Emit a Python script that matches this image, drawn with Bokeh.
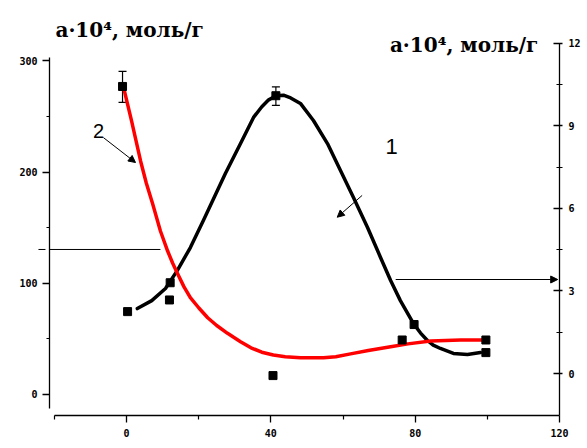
from bokeh.plotting import figure
from bokeh.models import (Range1d, LinearAxis, FixedTicker, Label, Arrow, NormalHead,
                          Whisker, TeeHead, ColumnDataSource)
from bokeh.embed import file_html
from bokeh.resources import INLINE

# Curve 1 (black, right axis)
c1_x = [3.0, 7.0, 10.8, 14.1, 17.7, 21.3, 27.4, 31.6, 35.2, 37.5, 39.4, 41.5, 43.5, 45.5,
        48.2, 51.8, 55.7, 59.3, 62.9, 66.8, 70.4, 73.2, 75.9, 79.5, 81.5, 83.4, 85.0, 87.0,
        90.6, 94.5, 98.1]
c1_y = [2.36, 2.65, 3.09, 3.75, 4.58, 5.56, 7.27, 8.36, 9.31, 9.7, 9.95, 10.1, 10.12, 10.02,
        9.82, 9.2, 8.36, 7.38, 6.4, 5.31, 4.22, 3.38, 2.65, 1.82, 1.47, 1.2, 1.03, 0.91,
        0.73, 0.69, 0.76]
p1_x = [0.3, 12.1, 41.4, 79.7, 99.6]
p1_y = [2.25, 3.3, 10.1, 1.78, 0.76]
e1_x = [41.4]
e1_lo = [9.75]
e1_hi = [10.42]

# Curve 2 (red, left axis)
c2_x = [-0.8, 1.4, 3.9, 5.5, 7.2, 9.4, 11.4, 12.8, 14.1, 15.9, 17.7, 20.0, 22.5, 25.0, 28.0,
        31.6, 34.5, 37.5, 40.7, 44.0, 48.2, 54.6, 58.0, 62.1, 67.0, 73.2, 78.0, 84.3, 92.6,
        100.0]
c2_y = [276, 246, 210, 190, 172, 147, 129, 118, 109, 97, 87, 78, 69, 62, 55,
        47.5, 42, 38, 35.5, 34, 33, 33, 34, 36.5, 39.5, 43, 45.5, 48, 49,
        49]
p2_x = [-1.1, 11.9, 40.6, 76.4, 99.6]
p2_y = [277, 85, 17, 49, 49]
e2_x = [-1.1]
e2_lo = [262.6]
e2_hi = [290.5]

x_ticks = [0, 40, 80, 120]
x_minor = [-20, 20, 60, 100]
yl_ticks = [0, 100, 200, 300]
yl_minor = [50, 150, 250]
yr_ticks = [0, 3, 6, 9, 12]
yr_minor = [1.5, 4.5, 7.5, 10.5]

title_text = "a·10⁴, моль/г"
xlabel_text = "α,%"

p = figure(width=587, height=448, output_backend="svg", toolbar_location=None,
           x_range=Range1d(-21.34, 120.0), y_range=Range1d(-18.9, 349.8),
           min_border_left=49, min_border_right=28, min_border_top=5, min_border_bottom=33)
p.extra_y_ranges = {"right": Range1d(-1.527, 13.38)}
p.outline_line_color = None
p.xgrid.visible = False
p.ygrid.visible = False
p.background_fill_color = "white"
p.border_fill_color = "white"

tick_font = dict(major_label_text_font="DejaVu Sans Mono", major_label_text_font_size="10px",
                 major_label_text_font_style="bold", major_label_text_color="black",
                 axis_line_color="black", axis_line_width=1.3,
                 major_tick_line_color="black", minor_tick_line_color="black",
                 major_tick_line_width=1.3, minor_tick_line_width=1.2)

xa = p.xaxis[0]
xa.ticker = FixedTicker(ticks=x_ticks, minor_ticks=x_minor)
xa.bounds = (-20, 120)
xa.major_tick_in = 0
xa.major_tick_out = 7
xa.minor_tick_in = 0
xa.minor_tick_out = 4
xa.major_label_standoff = 6
for k, v in tick_font.items():
    setattr(xa, k, v)

ya = p.yaxis[0]
ya.ticker = FixedTicker(ticks=yl_ticks, minor_ticks=yl_minor)
ya.bounds = (-12.6, 302.7)
ya.major_tick_in = 0
ya.major_tick_out = 7
ya.minor_tick_in = 0
ya.minor_tick_out = 3
ya.major_label_standoff = 5
for k, v in tick_font.items():
    setattr(ya, k, v)

ra = LinearAxis(y_range_name="right", ticker=FixedTicker(ticks=yr_ticks, minor_ticks=yr_minor))
ra.bounds = (-1.7, 12)
ra.major_tick_in = 6
ra.major_tick_out = 3
ra.minor_tick_in = 3
ra.minor_tick_out = 3
ra.major_label_standoff = 6
for k, v in tick_font.items():
    setattr(ra, k, v)
p.add_layout(ra, "right")

# curves
p.line(c1_x, c1_y, y_range_name="right", line_color="black", line_width=3.5,
       line_join="round", line_cap="round")
p.line(c2_x, c2_y, line_color="#ff0000", line_width=3.5, line_join="round", line_cap="round")

# markers
p.scatter(p1_x, p1_y, y_range_name="right", marker="square", size=8, color="black")
p.scatter(p2_x, p2_y, marker="square", size=8, color="black")

# error bars
w1 = Whisker(source=ColumnDataSource(dict(x=e1_x, lo=e1_lo, hi=e1_hi)), base="x",
             lower="lo", upper="hi", y_range_name="right", line_width=1.2, line_color="black",
             upper_head=TeeHead(size=8, line_width=1.2), lower_head=TeeHead(size=8, line_width=1.2))
w2 = Whisker(source=ColumnDataSource(dict(x=e2_x, lo=e2_lo, hi=e2_hi)), base="x",
             lower="lo", upper="hi", line_width=1.2, line_color="black",
             upper_head=TeeHead(size=8, line_width=1.2), lower_head=TeeHead(size=8, line_width=1.2))
p.add_layout(w1)
p.add_layout(w2)

def head():
    return NormalHead(size=7, fill_color="black", line_color="black", line_width=1)

p.add_layout(Arrow(x_start=-6.4, y_start=231, x_end=2.5, y_end=208.6, end=head(),
                   line_width=1, line_color="black"))
p.add_layout(Arrow(x_start=65.3, y_start=179, x_end=58.4, y_end=159.4, end=head(),
                   line_width=1, line_color="black"))
p.add_layout(Arrow(x_start=9.4, y_start=130.4, x_end=-24.4, y_end=130.4, end=head(),
                   line_width=1, line_color="black"))
p.add_layout(Arrow(x_start=74.6, y_start=103.4, x_end=119.5, y_end=103.4, end=head(),
                   line_width=1, line_color="black"))

# labels
p.add_layout(Label(x=-19.7, y=327.5, text=title_text, text_font="DejaVu Serif",
                   text_font_size="20px", text_font_style="bold", text_color="black",
                   text_baseline="alphabetic", text_align="left"))
p.add_layout(Label(x=73.0, y=314, text=title_text, text_font="DejaVu Serif",
                   text_font_size="20px", text_font_style="bold", text_color="black",
                   text_baseline="alphabetic", text_align="left"))
p.add_layout(Label(x=-9.3, y=236.5, text="2", text_font="Liberation Sans",
                   text_font_size="20px", text_color="black",
                   text_baseline="alphabetic", text_align="left"))
p.add_layout(Label(x=71.8, y=223, text="1", text_font="Liberation Sans",
                   text_font_size="22px", text_color="black",
                   text_baseline="alphabetic", text_align="left"))
p.add_layout(Label(x=100.9, y=-41.5, text=xlabel_text, text_font="Liberation Sans",
                   text_font_size="13px", text_color="black",
                   text_baseline="alphabetic", text_align="left"))

open("out.html", "w").write(file_html(p, INLINE))
